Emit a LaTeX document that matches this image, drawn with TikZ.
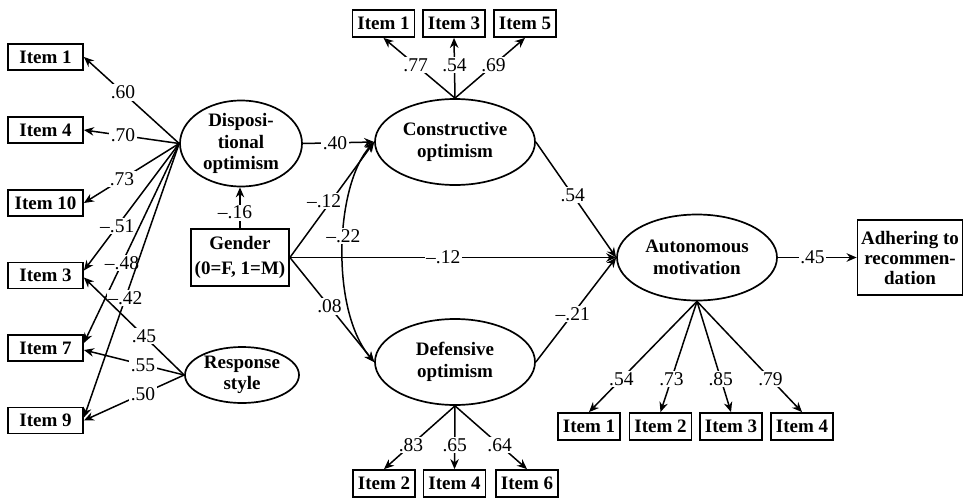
\documentclass[tikz,border=0pt]{standalone}
\usepackage{fontspec}
\setmainfont{Liberation Serif}
\usetikzlibrary{arrows.meta,shapes.geometric}
\begin{document}
\begin{tikzpicture}[x=1pt,y=-1pt,
  every node/.style={font=\fontsize{19}{21.5}\selectfont},
  box/.style={draw, line width=1.8pt, inner sep=0pt, align=center,
    font=\fontsize{19}{21.5}\selectfont\bfseries},
  lbox/.style={box, minimum width=75pt, minimum height=26pt},
  ibox/.style={box, minimum width=62pt, minimum height=27pt},
  lat/.style={draw, ellipse, line width=1.7pt, inner sep=0pt},
  lattext/.style={align=center, font=\fontsize{19}{21.5}\selectfont\bfseries},
  ln/.style={line width=1.5pt, -{Stealth[length=10pt,width=8.5pt]}},
  dln/.style={line width=1.5pt, {Stealth[length=10pt,width=8.5pt]}-{Stealth[length=10pt,width=8.5pt]}},
  lab/.style={fill=white, inner sep=1.5pt, font=\fontsize{19.5}{21.5}\selectfont}
]
\useasboundingbox (0,0) rectangle (964,498);

% left indicators
\node[lbox] (L1)  at (45.5,57)    {Item 1};
\node[lbox] (L4)  at (45.5,130)   {Item 4};
\node[lbox] (L10) at (45.5,203)   {Item 10};
\node[lbox] (L3)  at (45.5,275.5) {Item 3};
\node[lbox] (L7)  at (45.5,348)   {Item 7};
\node[lbox] (L9)  at (45.5,420.5) {Item 9};

% latent variables
\node[lat, minimum width=122pt, minimum height=86pt,
  label={[lattext]center:Disposi-\\tional\\optimism}] (D) at (241,143.5) {};
\node[lat, minimum width=114pt, minimum height=56pt,
  label={[lattext]center:Response\\style}] (R) at (242,375) {};
\node[lat, minimum width=160pt, minimum height=86pt,
  label={[lattext]center:Constructive\\optimism}] (C) at (455,142) {};
\node[lat, minimum width=160pt, minimum height=86pt,
  label={[lattext]center:Defensive\\optimism}] (Df) at (455,362) {};
\node[lat, minimum width=160pt, minimum height=86pt,
  label={[lattext]center:Autonomous\\motivation}] (A) at (697,257.5) {};

% observed boxes
\node[box, minimum width=98pt, minimum height=57pt,
  font=\fontsize{19}{25}\selectfont\bfseries] (G) at (240,257.5) {Gender\\(0=F, 1=M)};
\node[box, minimum width=105pt, minimum height=75pt,
  font=\fontsize{19}{20}\selectfont\bfseries] (H) at (910,257.5) {Adhering to\\recommen-\\dation};

\node[ibox] (C1) at (383.5,23.5) {Item 1};
\node[ibox] (C3) at (454,23.5)   {Item 3};
\node[ibox] (C5) at (525,23.5)   {Item 5};

\node[ibox] (D2) at (384,483.5)   {Item 2};
\node[ibox] (D4) at (454.5,483.5) {Item 4};
\node[ibox] (D6) at (527,483.5)   {Item 6};

\node[ibox] (A1) at (589,426.5)   {Item 1};
\node[ibox] (A2) at (660.5,426.5) {Item 2};
\node[ibox] (A3) at (731,426.5)   {Item 3};
\node[ibox] (A4) at (802,426.5)   {Item 4};

% dispositional optimism loadings
\draw[ln] (D.west) -- node[lab,pos=0.59]{.60} (L1.east);
\draw[ln] (D.west) -- node[lab,pos=0.59]{.70} (L4.east);
\draw[ln] (D.west) -- node[lab,pos=0.60]{.73} (L10.east);
\draw[ln] (D.west) -- node[lab,pos=0.65]{\textendash.51} ([yshift=5pt]L3.east);
\draw[ln] (D.west) -- node[lab,pos=0.60]{\textendash.48} ([yshift=5pt]L7.east);
\draw[ln] (D.west) -- node[lab,pos=0.565]{\textendash.42} ([yshift=3pt]L9.east);

% response style loadings
\draw[ln] (R.west) -- node[lab,pos=0.40]{.45} ([yshift=-2pt]L3.east);
\draw[ln] (R.west) -- node[lab,pos=0.41]{.55} ([yshift=-2pt]L7.east);
\draw[ln] (R.west) -- node[lab,pos=0.41]{.50} (L9.east);

% structural paths
\draw[ln] (G.north) -- node[lab,pos=0.38,xshift=-5pt]{\textendash.16} (G.north |- D.south);
\draw[ln] (D.east) -- node[lab,pos=0.45]{.40} (C.west);
\draw[ln] (G.east) -- node[lab,pos=0.49,xshift=-7pt]{\textendash.12} (C.west);
\draw[ln] (G.east) -- node[lab,pos=0.47]{.08} (Df.west);
\draw[ln] (G.east) -- node[lab,pos=0.47]{\textendash.12} (A.west);
\draw[dln] (C.west) .. controls (335,185) and (330,310) .. node[lab,pos=0.45]{\textendash.22} (Df.west);
\draw[ln] (C.east) -- node[lab,pos=0.46]{.54} (A.west);
\draw[ln] (Df.east) -- node[lab,pos=0.46]{\textendash.21} (A.west);
\draw[ln] (A.east) -- node[lab,pos=0.44]{.45} (H.west);

% constructive optimism loadings
\draw[ln] (C.north) -- node[lab,pos=0.55]{.77} (C1.south);
\draw[ln] (C.north) -- node[lab,pos=0.55]{.54} (C3.south);
\draw[ln] (C.north) -- node[lab,pos=0.55]{.69} (C5.south);

% defensive optimism loadings
\draw[ln] (Df.south) -- node[lab,pos=0.62]{.83} (D2.north);
\draw[ln] (Df.south) -- node[lab,pos=0.62]{.65} (D4.north);
\draw[ln] (Df.south) -- node[lab,pos=0.62]{.64} (D6.north);

% autonomous motivation loadings
\draw[ln] (A.south) -- node[lab,pos=0.70]{.54} (A1.north);
\draw[ln] (A.south) -- node[lab,pos=0.70]{.73} (A2.north);
\draw[ln] (A.south) -- node[lab,pos=0.70]{.85} (A3.north);
\draw[ln] (A.south) -- node[lab,pos=0.70]{.79} (A4.north);
\end{tikzpicture}
\end{document}
